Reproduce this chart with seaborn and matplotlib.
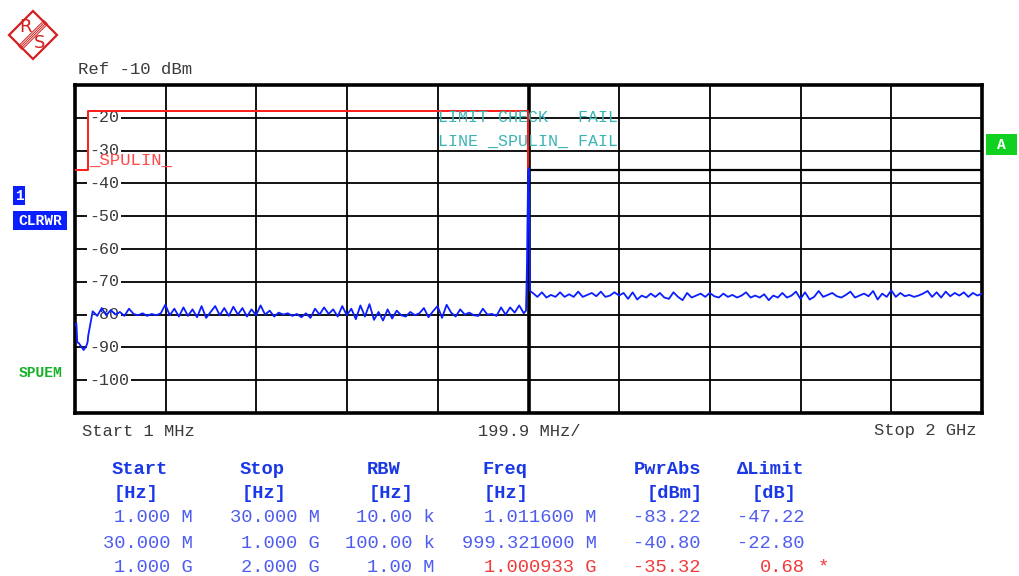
import numpy as np
import pandas as pd
import matplotlib
matplotlib.use("Agg")
import matplotlib.pyplot as plt
from matplotlib.patches import Rectangle, Polygon
import seaborn as sns

# ---------------- measured spectrum (MHz, dBm) ----------------
band1_freq = [1.0116, 4, 6, 10, 14, 18, 20, 24, 27, 29]
band1_level = [-83.22, -82.6, -88.4, -88.8, -89.6, -90.4, -90.8, -90.0, -89.2, -88.2]

band2_freq = np.arange(30, 1000, 10)
band2_level = [
    -86.5,
    -79.0, -80.4, -78.0, -80.2, -78.6, -80.0, -79.2, -80.4, -78.2, -79.8,
    -80.2, -79.6, -80.4, -79.8, -80.2, -79.6, -77.0, -80.2, -78.2, -80.6,
    -77.8, -80.4, -78.4, -80.8, -77.4, -81.0, -79.2, -77.4, -80.2, -78.0,
    -80.4, -77.6, -80.0, -78.0, -80.6, -78.4, -80.2, -77.2, -80.0, -78.8,
    -80.6, -79.4, -80.0, -79.6, -80.4, -79.8, -80.8, -79.6, -81.0, -78.2,
    -80.0, -77.8, -79.8, -78.4, -80.6, -77.4, -80.2, -78.2, -81.4, -77.2,
    -80.6, -76.8, -81.6, -79.2, -81.8, -78.4, -81.2, -78.8, -80.2, -80.6,
    -79.2, -80.2, -79.6, -78.0, -80.8, -79.0, -77.4, -81.0, -77.0, -79.4,
    -80.6, -78.4, -80.0, -79.4, -80.2, -80.4, -78.2, -80.0, -79.8, -80.4,
    -77.8, -80.0, -77.8, -79.4, -77.2, -79.6,
]

peak_freq = [995, 997, 999.321, 1000.933, 1002, 1004]
peak_level = [-78.8, -66.0, -40.80, -35.32, -50.0, -72.8]

band3_freq = np.arange(1010, 2001, 10)
band3_level = [
    -73.4, -74.6, -73.2, -74.8, -74.0, -74.6, -73.2, -74.6, -73.8, -74.6,
    -73.0, -74.6, -74.0, -73.4, -74.4, -73.0, -74.6, -74.2, -73.2, -74.2,
    -73.4, -75.2, -73.2, -75.4, -74.2, -74.8, -73.6, -74.6, -73.4, -74.8,
    -75.2, -73.2, -74.6, -75.6, -73.4, -74.8, -74.2, -73.6, -74.6, -73.4,
    -74.4, -74.8, -73.6, -74.6, -74.0, -74.8, -74.2, -73.2, -74.8, -74.2,
    -74.8, -73.8, -75.6, -74.2, -74.8, -73.4, -74.8, -74.2, -73.0, -75.2,
    -73.2, -75.4, -74.6, -72.8, -74.6, -74.0, -73.4, -74.4, -74.8, -74.0,
    -73.0, -74.8, -74.2, -73.6, -74.4, -72.8, -75.4, -73.6, -74.6, -72.6,
    -74.6, -73.4, -74.4, -74.0, -74.6, -74.2, -73.6, -72.8, -74.6, -73.2,
    -74.8, -73.0, -74.4, -73.4, -74.2, -73.2, -74.6, -73.4, -74.2, -73.6,
]

# limit line SPULIN (MHz, dBm)
limit_freq = [1, 30, 30, 1000, 1000]
limit_level = [-36, -36, -18, -18, -36]
limit_upper_freq = [1000, 2000]
limit_upper_level = [-36, -36]

# y-axis graticule labels
y_ticks = [-20, -30, -40, -50, -60, -70, -80, -90, -100]

# peak list per sweep range
range_start = ["1.000 M", "30.000 M", "1.000 G"]
range_stop = ["30.000 M", "1.000 G", "2.000 G"]
range_rbw = ["10.00 k", "100.00 k", "1.00 M"]
range_peak_freq = ["1.011600 M", "999.321000 M", "1.000933 G"]
range_pwr = [-83.22, -40.80, -35.32]
range_limit = [-36.0, -18.0, -36.0]

# ---------------- style ----------------
sns.set_style("white")
MONO = ["Liberation Mono", "DejaVu Sans Mono"]
plt.rcParams["font.family"] = MONO

TRACE = "#0a1eff"
LIMIT = "#ff1a1a"
TEXT = "#3a3a3a"
TEAL = "#3cb4b4"
HDR = "#1a38e6"
VAL = "#4e5cf0"
FAILC = "#f03a3a"
GREEN = "#10d020"

W, H = 1019, 576
fig = plt.figure(figsize=(W / 100, H / 100), dpi=100)
ax = fig.add_axes([75 / W, 163 / H, 907 / W, 328 / H])

trace = pd.DataFrame({
    "freq": np.concatenate([band1_freq, band2_freq, peak_freq, band3_freq]),
    "level": np.concatenate([band1_level, band2_level, peak_level, band3_level]),
})
lim = pd.DataFrame({"freq": limit_freq, "level": limit_level})
lim_up = pd.DataFrame({"freq": limit_upper_freq, "level": limit_upper_level})

ax.set_xlim(1, 2000)
ax.set_ylim(-110, -10)
ax.set_xticks(np.linspace(1, 2000, 11)[1:-1])
ax.set_yticks(y_ticks)
ax.grid(True, color="black", lw=1.3, zorder=1)
ax.set_axisbelow(True)
ax.tick_params(length=0, labelbottom=False, labelleft=False)
for sp in ax.spines.values():
    sp.set_linewidth(2.6)
    sp.set_color("black")
ax.axvline(1000.5, color="black", lw=2.6, zorder=2)

# graticule level labels sit on the grid but under the traces
ytrans = ax.get_yaxis_transform()
for v in y_ticks:
    ax.text(0.0155, v, f"-{abs(v)}", transform=ytrans, ha="left", va="center",
            fontsize=12, color=TEXT, zorder=2.5,
            bbox=dict(boxstyle="square,pad=0.12", fc="white", ec="none"))

sns.lineplot(data=lim_up, x="freq", y="level", ax=ax, color="black", lw=1.6,
             estimator=None, sort=False, zorder=3)
sns.lineplot(data=lim, x="freq", y="level", ax=ax, color=LIMIT, lw=1.4,
             estimator=None, sort=False, zorder=4)
sns.lineplot(data=trace, x="freq", y="level", ax=ax, color=TRACE, lw=1.3,
             estimator=None, sort=False, zorder=5)
ax.set_xlabel("")
ax.set_ylabel("")

# ---------------- overlay in pixel coordinates ----------------
ov = fig.add_axes([0, 0, 1, 1])
ov.set_xlim(0, W)
ov.set_ylim(H, 0)
ov.axis("off")
ov.patch.set_alpha(0)

# logo
cx, cy, r = 33, 35, 24
LOGO = "#d42020"
ov.add_patch(Polygon([(cx, cy - r), (cx + r, cy), (cx, cy + r), (cx - r, cy)],
                     closed=True, fill=False, ec=LOGO, lw=1.6))
for off in (-1.8, -0.6, 0.6, 1.8):
    ov.plot([cx - 13 + off, cx + 13 + off], [cy + 13 + off, cy - 13 + off],
            color=LOGO, lw=0.7)
ov.text(cx - 7, cy - 8, "R", color=LOGO, fontsize=13, ha="center",
        va="center", family="DejaVu Sans")
ov.text(cx + 7, cy + 8, "S", color=LOGO, fontsize=13, ha="center",
        va="center", family="DejaVu Sans")

ov.text(78, 70, "Ref -10 dBm", fontsize=12.5, color=TEXT, ha="left", va="center")

# trace / mode indicators
ov.add_patch(Rectangle((13, 186), 12, 19, fc="#0a1eff", ec="none"))
ov.text(19, 196, "1", color="white", fontsize=10.5, weight="bold",
        ha="center", va="center")
ov.add_patch(Rectangle((13, 211), 54, 19, fc="#0a1eff", ec="none"))
ov.text(40, 221, "CLRWR", color="white", fontsize=10.5, weight="bold",
        ha="center", va="center")
ov.text(41, 373, "SPUEM", color="#18b028", fontsize=10.5, weight="bold",
        ha="center", va="center")
ov.add_patch(Rectangle((986, 134), 31, 21, fc=GREEN, ec="none"))
ov.text(1001, 145, "A", color="white", fontsize=10.5, weight="bold",
        ha="center", va="center")

# limit check annotations
ov.text(89, 160, "_SPULIN_", color="#ff4a4a", fontsize=12.5, ha="left", va="center")
ov.text(438, 118, "LIMIT CHECK   FAIL", color=TEAL, fontsize=12, ha="left", va="center")
ov.text(438, 141, "LINE _SPULIN_ FAIL", color=TEAL, fontsize=12, ha="left", va="center")

# frequency axis annotation
ov.text(82, 431, "Start 1 MHz", fontsize=12.3, color=TEXT, ha="left", va="center")
ov.text(529, 431, "199.9 MHz/", fontsize=12.3, color=TEXT, ha="center", va="center")
ov.text(977, 431, "Stop 2 GHz", fontsize=12.3, color=TEXT, ha="right", va="center")

# peak list table
TS = 13.5
headers = [("Start", 112), ("Stop", 240), ("RBW", 367), ("Freq", 483),
           ("PwrAbs", 634), ("\u0394Limit", 737)]
units = [("[Hz]", 114), ("[Hz]", 242), ("[Hz]", 369), ("[Hz]", 484),
         ("[dBm]", 647), ("[dB]", 752)]
for txt, x in headers:
    ov.text(x, 469, txt, color=HDR, fontsize=TS, weight="bold", ha="left", va="center")
for txt, x in units:
    ov.text(x, 493, txt, color=HDR, fontsize=TS, weight="bold", ha="left", va="center")

row_y = [518, 543, 567]
for i in range(3):
    y = row_y[i]
    delta = range_pwr[i] - range_limit[i]
    fail = delta > 0
    c = FAILC if fail else VAL
    ov.text(193, y, range_start[i], color=VAL, fontsize=TS, ha="right", va="center")
    ov.text(320, y, range_stop[i], color=VAL, fontsize=TS, ha="right", va="center")
    ov.text(435, y, range_rbw[i], color=VAL, fontsize=TS, ha="right", va="center")
    ov.text(597, y, range_peak_freq[i], color=c, fontsize=TS, ha="right", va="center")
    ov.text(701, y, f"{range_pwr[i]:.2f}", color=c, fontsize=TS, ha="right", va="center")
    ov.text(805, y, f"{delta:.2f}", color=c, fontsize=TS, ha="right", va="center")
    if fail:
        ov.text(823, y, "*", color=c, fontsize=TS, ha="center", va="center")

fig.savefig("out.png", dpi=100)
